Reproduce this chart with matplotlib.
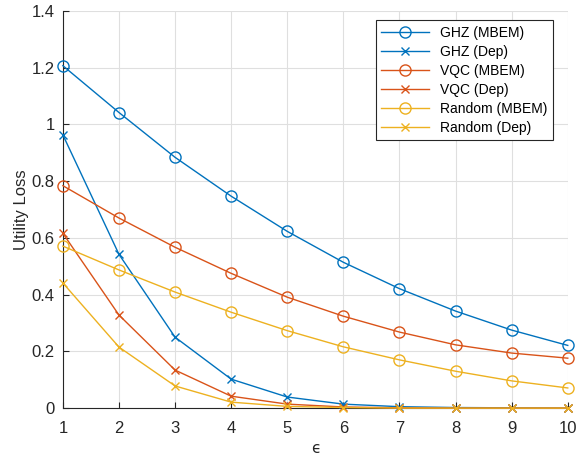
import matplotlib.pyplot as plt

plt.rcParams['font.family'] = ['Liberation Sans', 'DejaVu Sans']

eps = [1, 2, 3, 4, 5, 6, 7, 8, 9, 10]

ghz_mbem = [1.207, 1.042, 0.884, 0.747, 0.623, 0.514, 0.421, 0.342, 0.275, 0.221]
ghz_dep = [0.963, 0.542, 0.250, 0.102, 0.039, 0.014, 0.005, 0.002, 0.001, 0.000]
vqc_mbem = [0.784, 0.670, 0.567, 0.475, 0.391, 0.324, 0.268, 0.223, 0.194, 0.176]
vqc_dep = [0.616, 0.328, 0.134, 0.042, 0.014, 0.004, 0.001, 0.000, 0.000, 0.000]
rnd_mbem = [0.571, 0.487, 0.409, 0.338, 0.273, 0.216, 0.170, 0.130, 0.096, 0.071]
rnd_dep = [0.441, 0.215, 0.078, 0.021, 0.006, 0.002, 0.000, 0.000, 0.000, 0.000]

azul = '#0072BD'
laranja = '#D95319'
amarelo = '#EDB120'

fig = plt.figure(figsize=(5.77, 4.57), dpi=100)
ax = fig.add_axes([0.109, 0.107, 0.875, 0.869])

series = [
    (ghz_mbem, azul, 'o', 'GHZ (MBEM)'),
    (ghz_dep, azul, 'x', 'GHZ (Dep)'),
    (vqc_mbem, laranja, 'o', 'VQC (MBEM)'),
    (vqc_dep, laranja, 'x', 'VQC (Dep)'),
    (rnd_mbem, amarelo, 'o', 'Random (MBEM)'),
    (rnd_dep, amarelo, 'x', 'Random (Dep)'),
]
for y, cor, marc, nome in series:
    if marc == 'o':
        ax.plot(eps, y, color=cor, marker='o', markersize=8, markerfacecolor='none',
                linewidth=1, label=nome, clip_on=False, zorder=3)
    else:
        ax.plot(eps, y, color=cor, marker='x', markersize=6, linewidth=1,
                label=nome, clip_on=False, zorder=3)

ax.set_xlim(1, 10)
ax.set_ylim(0, 1.4)
ax.set_xticks(eps)
ax.set_yticks([0, 0.2, 0.4, 0.6, 0.8, 1.0, 1.2, 1.4])
ax.set_yticklabels(['0', '0.2', '0.4', '0.6', '0.8', '1', '1.2', '1.4'])
ax.grid(True, color='#DFDFDF', linewidth=0.8)
ax.set_axisbelow(True)
ax.spines['top'].set_visible(False)
ax.spines['right'].set_visible(False)
ax.spines['left'].set_color('#262626')
ax.spines['bottom'].set_color('#262626')
ax.tick_params(direction='in', labelsize=12, colors='#262626', length=4)
ax.tick_params(axis='x', pad=9)
ax.tick_params(axis='y', pad=6)
ax.set_xlabel('ϵ', fontsize=11, color='#262626', family='DejaVu Sans', labelpad=4)
ax.set_ylabel('Utility Loss', fontsize=12, color='#262626', labelpad=2)

leg = ax.legend(loc='upper right', bbox_to_anchor=(0.970, 0.977), borderaxespad=0,
                fontsize=10, fancybox=False, edgecolor='#262626', framealpha=1,
                handlelength=3.4, borderpad=0.4, labelspacing=0.36)
leg.get_frame().set_linewidth(0.8)

plt.savefig('out.png', dpi=100)
